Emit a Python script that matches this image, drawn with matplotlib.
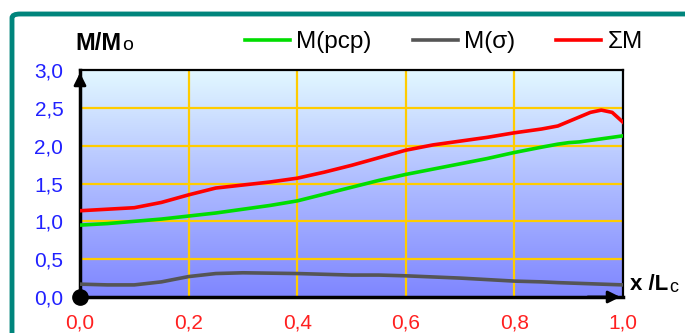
import matplotlib.pyplot as plt
import numpy as np
from matplotlib.patches import FancyBboxPatch
from matplotlib.colors import LinearSegmentedColormap

plt.rcParams['font.family'] = ['Liberation Sans', 'DejaVu Sans']

# data
x_pts = [0.0, 0.05, 0.1, 0.15, 0.2, 0.25, 0.3, 0.35, 0.4, 0.45, 0.5, 0.55,
         0.6, 0.65, 0.7, 0.75, 0.8, 0.85, 0.88, 0.9, 0.92, 0.94, 0.96, 0.98, 1.0]
m_pcp = [0.95, 0.97, 1.00, 1.03, 1.07, 1.11, 1.16, 1.21, 1.27, 1.36, 1.45, 1.54,
         1.62, 1.69, 1.76, 1.83, 1.91, 1.98, 2.02, 2.04, 2.05, 2.07, 2.09, 2.11, 2.13]
m_sigma = [0.17, 0.16, 0.16, 0.20, 0.27, 0.31, 0.32, 0.315, 0.31, 0.30, 0.29, 0.29,
           0.28, 0.265, 0.25, 0.23, 0.21, 0.20, 0.19, 0.185, 0.18, 0.175, 0.17, 0.165, 0.16]
m_sum = [1.14, 1.16, 1.18, 1.25, 1.35, 1.44, 1.48, 1.52, 1.57, 1.65, 1.74, 1.84,
         1.94, 2.01, 2.06, 2.11, 2.17, 2.22, 2.26, 2.32, 2.38, 2.44, 2.47, 2.44, 2.31]

x_ticks = [0.0, 0.2, 0.4, 0.6, 0.8, 1.0]
y_ticks = [0.0, 0.5, 1.0, 1.5, 2.0, 2.5, 3.0]

fig = plt.figure(figsize=(6.85, 3.33), dpi=100)

# teal frame around the chart
frame = FancyBboxPatch((12 / 685, -0.2), 1.2, (333 - 14) / 333 + 0.2,
                       boxstyle='round,pad=0,rounding_size=0.012',
                       transform=fig.transFigure, facecolor='none',
                       edgecolor='#00857c', linewidth=3.5, zorder=0)
fig.patches.append(frame)

ax = fig.add_axes([80 / 685, 36 / 333, 543 / 685, 227 / 333])
ax.set_zorder(2)
ax.set_xlim(0, 1.0)
ax.set_ylim(0, 3.0)

# background gradient
cmap = LinearSegmentedColormap.from_list('bg', ['#7f86ff', '#aebcff', '#e2f8ff'])
grad = np.linspace(0, 1, 256).reshape(-1, 1)
ax.imshow(grad, aspect='auto', cmap=cmap, origin='lower',
          extent=[0, 1, 0, 3], zorder=0)

for xv in x_ticks[1:-1]:
    ax.axvline(xv, color='#ffcc00', lw=1.6, zorder=1)
for yv in y_ticks[1:-1]:
    ax.axhline(yv, color='#ffcc00', lw=1.6, zorder=1)

ax.plot(x_pts, m_pcp, color='#00dd00', lw=2.6, label='M(pcp)', zorder=3)
ax.plot(x_pts, m_sigma, color='#555555', lw=2.6, label='M(σ)', zorder=3)
ax.plot(x_pts, m_sum, color='#ff0000', lw=2.6, label='ΣM', zorder=3)

for s in ax.spines.values():
    s.set_color('black')
    s.set_linewidth(1.6)
ax.spines['left'].set_linewidth(2.5)
ax.spines['bottom'].set_linewidth(2.5)

ax.set_xticks(x_ticks)
ax.set_yticks(y_ticks)
ax.set_xticklabels([f'{v:.1f}'.replace('.', ',') for v in x_ticks],
                   color='#ff2020', fontsize=15)
ax.set_yticklabels([f'{v:.1f}'.replace('.', ',') for v in y_ticks],
                   color='#2020ff', fontsize=15)
ax.tick_params(axis='y', length=0, pad=12)
ax.tick_params(axis='x', length=0, pad=12)

# axis arrows and origin dot
ax.annotate('', xy=(0, 3.0), xytext=(0, 2.75), xycoords='data',
            arrowprops=dict(arrowstyle='-|>', color='black', lw=2,
                            mutation_scale=18), annotation_clip=False, zorder=5)
ax.annotate('', xy=(1.0, 0), xytext=(0.93, 0), xycoords='data',
            arrowprops=dict(arrowstyle='-|>', color='black', lw=2,
                            mutation_scale=18), annotation_clip=False, zorder=5)
ax.plot([0], [0], 'o', color='black', ms=11, clip_on=False, zorder=6)

# axis titles, with the small non-bold index placed right after
fig.canvas.draw()
r = fig.canvas.get_renderer()
t1 = fig.text(75 / 685, 1 - 43 / 333, 'M/M', fontsize=17, fontweight='bold',
              va='center')
w1 = t1.get_window_extent(r).width
fig.text(75 / 685 + (w1 + 1) / 685, 1 - 45 / 333, 'o', fontsize=14, va='center')
t2 = fig.text(630 / 685, 1 - 285 / 333, 'x /L', fontsize=16, fontweight='bold',
              va='center')
w2 = t2.get_window_extent(r).width
fig.text(630 / 685 + (w2 + 1) / 685, 1 - 287 / 333, 'c', fontsize=13, va='center')

ax.legend(loc='center left', bbox_to_anchor=(165 / 543, 1 + 28 / 227), ncol=3,
          frameon=False, fontsize=17.5, handlelength=1.85, handletextpad=0.25,
          columnspacing=1.7, borderaxespad=0, borderpad=0)

fig.savefig('out.png', dpi=100)
